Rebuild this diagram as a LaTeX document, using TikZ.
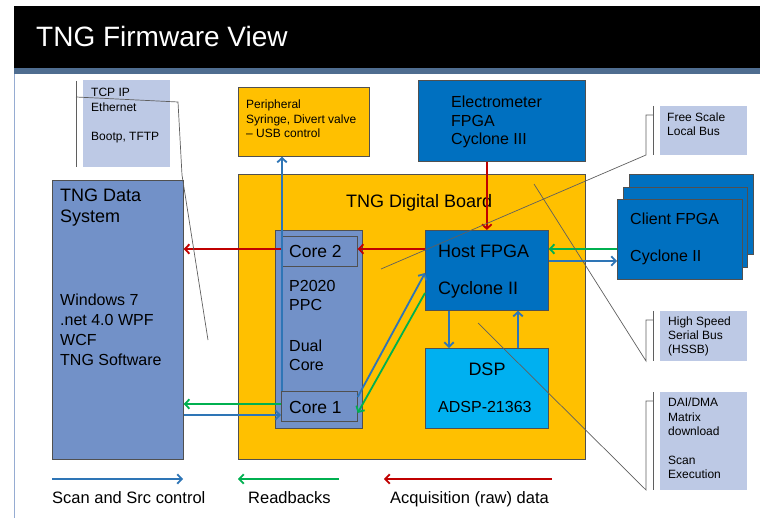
\documentclass[tikz,border=0pt]{standalone}
\usepackage{fontspec}
\setmainfont{Liberation Sans}
\usetikzlibrary{arrows.meta}
\definecolor{slate}{RGB}{114,145,200}
\definecolor{lightb}{RGB}{189,201,229}
\definecolor{orng}{RGB}{255,192,0}
\definecolor{dblue}{RGB}{0,112,192}
\definecolor{cyanb}{RGB}{0,176,240}
\definecolor{arred}{RGB}{192,0,0}
\definecolor{arblue}{RGB}{46,117,182}
\definecolor{argreen}{RGB}{0,176,80}
\definecolor{strip}{RGB}{79,109,144}
\definecolor{edgec}{RGB}{150,172,210}
\definecolor{bord}{RGB}{80,80,80}
\definecolor{callc}{RGB}{95,95,95}
\newcommand{\myfs}[2]{\fontsize{#1}{#2}\selectfont}
\begin{document}
\begin{tikzpicture}[x=1pt,y=-1pt,
  box/.style={draw=bord, line width=0.7pt, inner sep=0pt, anchor=north west},
  lbox/.style={fill=lightb, inner sep=0pt, anchor=north west},
  txt/.style={inner sep=0pt, text=black},
  arr/.style={line width=1.8pt, -{Straight Barb[length=4.5pt,width=9.5pt]}},
  call/.style={draw=callc, line width=0.7pt}]
\useasboundingbox (0,0) rectangle (760,518);
% title bar
\fill[black] (14,6) rectangle (760,68);
\fill[strip] (14,68) rectangle (760,74);
\draw[edgec, line width=0.8pt] (14,74) -- (14,518);
\node[txt, text=white, font=\myfs{28}{32}, anchor=base west] (title) at (36,47) {TNG Firmware View};

% boxes
\node[lbox, minimum width=87pt, minimum height=87pt] (tcp) at (83,80) {};
\node[box, fill=slate, minimum width=131pt, minimum height=279pt] (ds) at (52,180) {};
\node[box, fill=orng, minimum width=131pt, minimum height=69pt] (periph) at (238,87) {};
\node[box, fill=dblue, minimum width=167pt, minimum height=81pt] (elec) at (418,80) {};
\node[box, fill=orng, minimum width=347pt, minimum height=285pt] (board) at (238,174) {};
\node[box, fill=slate, minimum width=87pt, minimum height=198pt] (p2020) at (275,230) {};
\node[box, fill=slate, minimum width=76pt, minimum height=30pt] (core2) at (281,236) {};
\node[box, fill=slate, minimum width=76pt, minimum height=30pt] (core1) at (281,391) {};
\node[box, fill=dblue, minimum width=123pt, minimum height=80pt] (host) at (425,230) {};
\node[box, fill=cyanb, minimum width=123pt, minimum height=80pt] (dsp) at (425,348) {};
\node[box, fill=dblue, minimum width=124pt, minimum height=80pt] (cl3) at (629,174) {};
\node[box, fill=dblue, minimum width=124pt, minimum height=80pt] (cl2) at (623,187) {};
\node[box, fill=dblue, minimum width=125pt, minimum height=80pt] (cl1) at (617,199) {};
\node[lbox, minimum width=87pt, minimum height=49pt] (fsl) at (660,106) {};
\node[lbox, minimum width=87pt, minimum height=50pt] (hssb) at (660,311) {};
\node[lbox, minimum width=87pt, minimum height=98pt] (dai) at (660,392) {};

% texts
\node[txt, font=\myfs{12}{15}, align=left, anchor=north west] (tcpt) at (91,88) {TCP IP\\Ethernet\\[14pt]Bootp, TFTP};
\node[txt, font=\myfs{12}{14.5}, align=left, anchor=north west] (peripht) at (246,100) {Peripheral\\Syringe, Divert valve\\– USB control};
\node[txt, font=\myfs{16}{18.5}, align=left, anchor=north west] (elect) at (451,96) {Electrometer\\FPGA\\Cyclone III};
\node[txt, font=\myfs{12}{14}, align=left, anchor=north west] (fslt) at (667,113) {Free Scale\\Local Bus};
\node[txt, font=\myfs{18}{21}, align=left, anchor=north west] (dst) at (60,189) {TNG Data\\System};
\node[txt, font=\myfs{16}{20}, align=left, anchor=north west] (dsb) at (60,294) {Windows 7\\.net 4.0 WPF\\WCF\\TNG Software};
\node[txt, font=\myfs{18}{21}, anchor=base west] (boardt) at (346,208) {TNG Digital Board};
\node[txt, font=\myfs{17.5}{20}, anchor=base west] (core2t) at (289,258) {Core 2};
\node[txt, font=\myfs{16}{19}, align=left, anchor=north west] (ppct) at (289,280) {P2020\\PPC};
\node[txt, font=\myfs{16}{19}, align=left, anchor=north west] (dualt) at (289,340) {Dual\\Core};
\node[txt, font=\myfs{17.5}{20}, anchor=base west] (core1t) at (289,413) {Core 1};
\node[txt, font=\myfs{18}{21}, anchor=base west] (hostt) at (438,258) {Host FPGA};
\node[txt, font=\myfs{18}{21}, anchor=base west] (hostc) at (438,295) {Cyclone II};
\node[txt, font=\myfs{18}{21}, anchor=base] (dspt) at (487,375) {DSP};
\node[txt, font=\myfs{16}{19}, anchor=base west] (dspc) at (438,412) {ADSP-21363};
\node[txt, font=\myfs{16}{19}, anchor=base west] (clt) at (630,225) {Client FPGA};
\node[txt, font=\myfs{16}{19}, anchor=base west] (clc) at (630,262) {Cyclone II};
\node[txt, font=\myfs{12}{14}, align=left, anchor=north west] (hssbt) at (668,317) {High Speed\\Serial Bus\\(HSSB)};
\node[txt, font=\myfs{12}{14.5}, align=left, anchor=north west] (dait) at (668,398) {DAI/DMA\\Matrix\\download\\[14pt]Scan\\Execution};
\node[txt, font=\myfs{16.5}{19}, anchor=base west] (leg1) at (52,503) {Scan and Src control};
\node[txt, font=\myfs{16.5}{19}, anchor=base west] (leg2) at (248,503) {Readbacks};
\node[txt, font=\myfs{16.5}{19}, anchor=base west] (leg3) at (390,503) {Acquisition (raw) data};

% connectors
\coordinate (y249) at (0,249);
\coordinate (y261) at (0,261);
\coordinate (y404) at (0,404);
\coordinate (y415) at (0,415);
\coordinate (c1top) at ([xshift=1pt]core1.north west);
\draw[arr, arred] (host.north |- elec.south) -- (host.north);
\draw[arr, arred] (host.west |- y249) -- (core2.east |- y249);
\draw[arr, arred] (core2.west |- y249) -- (ds.east |- y249);
\draw[arr, arblue] (c1top) -- (c1top |- periph.south);
\draw[arr, argreen] (core1.west |- y404) -- (ds.east |- y404);
\draw[arr, arblue] (ds.east |- y415) -- (core1.west |- y415);
\coordinate (d1s) at (357,397);
\coordinate (d1e) at (424,273);
\coordinate (d2s) at (425,293);
\coordinate (d2e) at (357,413);
\draw[arr, arblue] (core1.east |- d1s) -- (host.west |- d1e);
\draw[arr, argreen] (host.west |- d2s) -- (core1.east |- d2e);
\coordinate (x449) at (449,0);
\coordinate (x518) at (518,0);
\draw[arr, arblue] (host.south -| x449) -- (dsp.north -| x449);
\draw[arr, arblue] (dsp.north -| x518) -- (host.south -| x518);
\draw[arr, argreen] (cl1.west |- y249) -- (host.east |- y249);
\draw[arr, arblue] (host.east |- y261) -- (cl1.west |- y261);

% legend arrows
\coordinate (l1a) at (52,479); \coordinate (l1b) at (183,479);
\coordinate (l2a) at (339,479); \coordinate (l2b) at (238,479);
\coordinate (l3a) at (552,479); \coordinate (l3b) at (384,479);
\draw[arr, arblue] (l1a) -- (l1b);
\draw[arr, argreen] (l2a) -- (l2b);
\draw[arr, arred] (l3a) -- (l3b);

% callouts
\draw[call] (76,81) -- (76,167);
\draw[call] (76,97) -- (178,102) -- (182,175) -- (208,340);
\draw[call] (653,106) -- (653,155);
\draw[call] (653,115) -- (646,115) -- (646,155) -- (381,269);
\draw[call] (653,311) -- (653,361);
\draw[call] (653,320) -- (646,320) -- (646,361) -- (534,184);
\draw[call] (653,392) -- (653,490);
\draw[call] (653,401) -- (646,401) -- (646,490) -- (478,323);
\end{tikzpicture}
\end{document}
